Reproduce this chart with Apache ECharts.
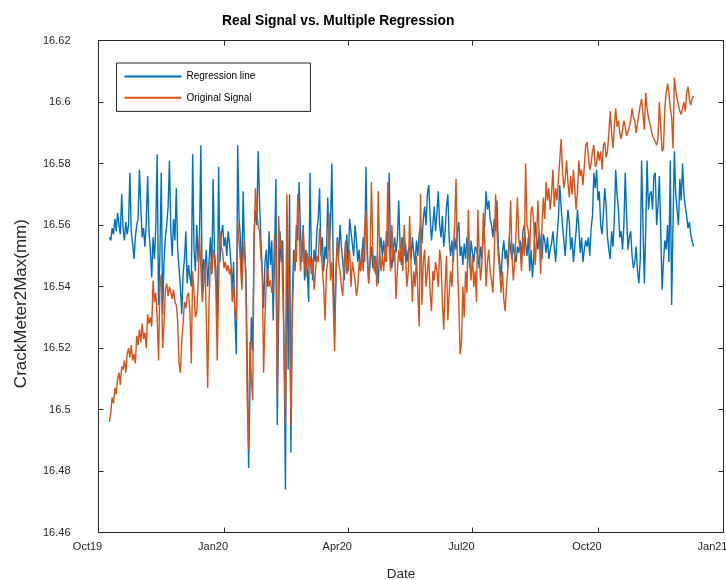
<!DOCTYPE html>
<html><head><meta charset="utf-8">
<script src="https://cdn.jsdelivr.net/npm/echarts@6/dist/echarts.min.js"></script>
<style>html,body{margin:0;padding:0;background:#fff}#c{width:726px;height:580px}</style>
</head><body><div id="c"></div>
<script>
// first sample date (one sample per day)
const firstSample = '2019-10-09';
const xTickDates = ['2019-10-01','2020-01-01','2020-04-01','2020-07-01','2020-10-01','2021-01-01'];
const xTickLabels = ['Oct19','Jan20','Apr20','Jul20','Oct20','Jan21'];
const yMin = 16.46, yMax = 16.62, yStep = 0.02;
const seriesNames = ['Regression line','Original Signal'];

const regressionLine = [
16.556,16.555,16.559,16.557,16.562,16.558,16.564,16.560,16.557,16.570,
16.559,16.555,16.561,16.557,16.560,16.577,16.558,16.554,16.549,16.556,
16.560,16.562,16.578,16.566,16.556,16.559,16.553,16.561,16.576,16.558,
16.552,16.543,16.556,16.549,16.560,16.583,16.534,16.551,16.577,16.531,
16.548,16.556,16.560,16.566,16.581,16.558,16.550,16.562,16.555,16.572,
16.552,16.546,16.540,16.531,16.544,16.549,16.558,16.541,16.547,16.543,
16.540,16.583,16.552,16.545,16.560,16.548,16.556,16.586,16.538,16.549,
16.545,16.552,16.540,16.548,16.556,16.544,16.575,16.551,16.546,16.525,
16.579,16.548,16.557,16.560,16.553,16.556,16.550,16.558,16.554,16.548,
16.539,16.548,16.530,16.518,16.586,16.562,16.556,16.540,16.571,16.552,
16.545,16.516,16.481,16.507,16.530,16.519,16.557,16.565,16.560,16.584,
16.568,16.555,16.545,16.533,16.548,16.552,16.540,16.558,16.547,16.555,
16.529,16.550,16.575,16.495,16.530,16.558,16.548,16.555,16.519,16.474,
16.563,16.513,16.570,16.486,16.535,16.552,16.545,16.560,16.555,16.574,
16.558,16.548,16.560,16.542,16.552,16.545,16.535,16.577,16.550,16.542,
16.552,16.548,16.558,16.562,16.572,16.550,16.556,16.545,16.553,16.549,
16.569,16.552,16.560,16.580,16.548,16.524,16.545,16.556,16.550,16.560,
16.553,16.548,16.542,16.550,16.557,16.545,16.562,16.558,16.554,16.550,
16.560,16.555,16.548,16.552,16.545,16.550,16.556,16.548,16.579,16.552,
16.541,16.548,16.553,16.546,16.550,16.544,16.548,16.541,16.552,16.556,
16.550,16.555,16.548,16.558,16.553,16.577,16.550,16.546,16.552,16.556,
16.551,16.555,16.568,16.553,16.547,16.556,16.550,16.554,16.548,16.552,
16.553,16.549,16.556,16.551,16.547,16.555,16.550,16.557,16.560,16.554,
16.562,16.566,16.560,16.570,16.573,16.563,16.555,16.560,16.566,16.558,
16.564,16.571,16.560,16.556,16.563,16.553,16.558,16.566,16.570,16.555,
16.550,16.555,16.548,16.556,16.552,16.558,16.561,16.550,16.553,16.547,
16.554,16.549,16.556,16.552,16.546,16.555,16.551,16.548,16.553,16.552,
16.550,16.546,16.553,16.549,16.557,16.560,16.571,16.565,16.568,16.562,
16.560,16.556,16.562,16.558,16.568,16.553,16.548,16.543,16.551,16.555,
16.549,16.552,16.546,16.556,16.552,16.549,16.554,16.550,16.548,16.553,
16.551,16.555,16.549,16.558,16.560,16.554,16.550,16.556,16.545,16.552,
16.543,16.550,16.561,16.556,16.552,16.558,16.554,16.549,16.557,16.555,
16.551,16.556,16.549,16.552,16.554,16.558,16.553,16.548,16.556,16.562,
16.573,16.566,16.560,16.555,16.550,16.558,16.565,16.561,16.552,16.556,
16.548,16.553,16.558,16.565,16.559,16.551,16.556,16.548,16.552,16.555,
16.553,16.556,16.550,16.559,16.563,16.577,16.572,16.578,16.568,16.571,
16.560,16.557,16.564,16.572,16.566,16.556,16.552,16.549,16.558,16.553,
16.562,16.578,16.570,16.565,16.556,16.558,16.552,16.560,16.577,16.563,
16.552,16.556,16.558,16.550,16.546,16.548,16.553,16.545,16.541,16.549,
16.581,16.560,16.541,16.558,16.581,16.565,16.570,16.571,16.565,16.576,
16.577,16.560,16.566,16.576,16.558,16.539,16.548,16.555,16.552,16.560,
16.548,16.581,16.534,16.560,16.584,16.570,16.565,16.560,16.575,16.568,
16.580,16.570,16.566,16.563,16.559,16.561,16.557,16.555,16.553
];

const originalSignal = [
16.496,16.499,16.504,16.502,16.507,16.505,16.510,16.512,16.508,16.514,
16.513,16.516,16.512,16.518,16.520,16.517,16.521,16.516,16.518,16.515,
16.524,16.521,16.526,16.522,16.528,16.523,16.525,16.520,16.531,16.528,
16.530,16.527,16.542,16.535,16.538,16.530,16.516,16.540,16.544,16.520,
16.528,16.539,16.541,16.537,16.540,16.538,16.536,16.539,16.535,16.534,
16.529,16.515,16.512,16.522,16.528,16.535,16.533,16.537,16.538,16.532,
16.515,16.545,16.538,16.530,16.532,16.541,16.557,16.546,16.535,16.540,
16.548,16.530,16.507,16.535,16.548,16.545,16.552,16.549,16.540,16.516,
16.540,16.558,16.553,16.551,16.546,16.548,16.545,16.547,16.544,16.546,
16.535,16.540,16.532,16.529,16.561,16.555,16.548,16.539,16.550,16.555,
16.540,16.503,16.487,16.522,16.510,16.503,16.555,16.572,16.564,16.560,
16.558,16.550,16.545,16.512,16.530,16.542,16.546,16.540,16.542,16.538,
16.539,16.557,16.550,16.504,16.563,16.552,16.555,16.540,16.519,16.495,
16.570,16.547,16.530,16.495,16.530,16.545,16.552,16.548,16.570,16.558,
16.545,16.552,16.559,16.548,16.543,16.551,16.547,16.550,16.544,16.549,
16.539,16.545,16.550,16.548,16.559,16.552,16.546,16.540,16.529,16.545,
16.548,16.564,16.542,16.548,16.535,16.519,16.543,16.555,16.548,16.545,
16.540,16.537,16.548,16.555,16.544,16.547,16.552,16.540,16.548,16.545,
16.542,16.537,16.540,16.548,16.545,16.552,16.545,16.558,16.565,16.548,
16.541,16.548,16.574,16.552,16.545,16.550,16.540,16.571,16.552,16.545,
16.550,16.545,16.553,16.548,16.574,16.553,16.545,16.560,16.548,16.552,
16.536,16.545,16.552,16.548,16.556,16.545,16.560,16.550,16.540,16.545,
16.563,16.548,16.535,16.545,16.540,16.550,16.538,16.527,16.570,16.534,
16.548,16.552,16.540,16.545,16.550,16.538,16.532,16.545,16.542,16.548,
16.545,16.540,16.552,16.548,16.535,16.526,16.540,16.550,16.529,16.538,
16.545,16.540,16.552,16.560,16.575,16.548,16.535,16.518,16.522,16.540,
16.530,16.545,16.538,16.565,16.548,16.542,16.550,16.540,16.545,16.535,
16.565,16.550,16.542,16.548,16.564,16.555,16.540,16.548,16.552,16.545,
16.542,16.538,16.550,16.570,16.558,16.550,16.545,16.538,16.545,16.536,
16.532,16.540,16.546,16.555,16.568,16.550,16.542,16.548,16.558,16.569,
16.555,16.552,16.545,16.556,16.550,16.580,16.560,16.558,16.552,16.565,
16.566,16.560,16.547,16.555,16.568,16.556,16.544,16.560,16.569,16.562,
16.574,16.568,16.572,16.565,16.570,16.578,16.566,16.572,16.568,16.575,
16.581,16.588,16.578,16.572,16.575,16.581,16.574,16.569,16.576,16.570,
16.578,16.572,16.565,16.571,16.581,16.576,16.578,16.573,16.579,16.586,
16.587,16.582,16.578,16.580,16.584,16.586,16.579,16.580,16.584,16.581,
16.584,16.578,16.586,16.587,16.582,16.584,16.590,16.597,16.590,16.585,
16.592,16.598,16.592,16.594,16.590,16.588,16.591,16.594,16.592,16.589,
16.589,16.592,16.594,16.598,16.595,16.594,16.590,16.593,16.596,16.599,
16.601,16.596,16.591,16.603,16.598,16.595,16.593,16.591,16.589,16.588,
16.587,16.586,16.588,16.600,16.592,16.584,16.585,16.598,16.603,16.606,
16.603,16.598,16.595,16.585,16.608,16.604,16.601,16.599,16.597,16.596,
16.598,16.600,16.597,16.603,16.605,16.601,16.599,16.601,16.602
];

function toTs(s, addDays) {
  const p = s.split('-').map(Number);
  return new Date(p[0], p[1] - 1, p[2] + (addDays || 0)).getTime();
}
const tickTs = xTickDates.map(s => toTs(s));
const blueData = regressionLine.map((v, i) => [toTs(firstSample, i), v]);
const orangeData = originalSignal.map((v, i) => [toTs(firstSample, i), v]);

function xLabel(val) {
  for (let k = 0; k < tickTs.length; k++) {
    if (Math.abs(tickTs[k] - val) < 3600e3 * 3) return xTickLabels[k];
  }
  return '';
}
function yLabel(v) { return String(parseFloat(Number(v).toFixed(2))); }

const axisColor = '#262626';
const FONT = "'Liberation Sans', Arial, Helvetica, sans-serif";

const chart = echarts.init(document.getElementById('c'), null, {renderer: 'canvas'});
chart.setOption({
  animation: false,
  backgroundColor: '#ffffff',
  textStyle: {fontFamily: FONT},
  title: {
    text: 'Real Signal vs. Multiple Regression',
    left: 217, top: 9,
    textStyle: {fontSize: 13.8, fontWeight: 'bold', color: '#000', fontFamily: FONT}
  },
  legend: {
    data: seriesNames,
    orient: 'vertical',
    left: 116.5, top: 63,
    itemWidth: 57, itemHeight: 14, itemGap: 10,
    padding: [8, 55, 8, 7],
    borderColor: axisColor, borderWidth: 1,
    backgroundColor: '#fff',
    itemStyle: {opacity: 0},
    textStyle: {fontSize: 10, color: '#000', fontFamily: FONT}
  },
  grid: {left: 98.5, right: 2.5, top: 40.6, bottom: 47.4, containLabel: false, outerBoundsMode: 'none'},
  xAxis: [{
    type: 'value', position: 'bottom', scale: true,
    min: tickTs[0], max: tickTs[tickTs.length - 1],
    name: 'Date', nameLocation: 'middle', nameGap: 35,
    nameTextStyle: {fontSize: 13.5, color: axisColor, fontFamily: FONT, padding: [0, 20, 0, 0]},
    axisLine: {show: true, onZero: false, lineStyle: {color: axisColor, width: 1}},
    axisTick: {show: true, inside: true, length: 5, customValues: tickTs, lineStyle: {color: axisColor}},
    axisLabel: {show: true, customValues: tickTs, formatter: xLabel, margin: 9, fontSize: 11, color: axisColor,
      fontFamily: FONT, padding: [0, 22, 0, 0], hideOverlap: false, showMinLabel: true, showMaxLabel: true},
    splitLine: {show: false}
  }, {
    type: 'value', position: 'top', scale: true,
    min: tickTs[0], max: tickTs[tickTs.length - 1],
    axisLine: {show: true, onZero: false, lineStyle: {color: axisColor, width: 1}},
    axisTick: {show: true, inside: true, length: 5, customValues: tickTs, lineStyle: {color: axisColor}},
    axisLabel: {show: false},
    splitLine: {show: false}
  }],
  yAxis: [{
    type: 'value', position: 'left',
    min: yMin, max: yMax, interval: yStep,
    name: 'CrackMeter2Max(mm)', nameLocation: 'middle', nameGap: 69,
    nameTextStyle: {fontSize: 17, color: axisColor, fontFamily: FONT, padding: [0, 34, 0, 0]},
    axisLine: {show: true, onZero: false, lineStyle: {color: axisColor, width: 1}},
    axisTick: {show: true, inside: true, length: 5, lineStyle: {color: axisColor}},
    axisLabel: {formatter: yLabel, margin: 28, fontSize: 11, color: axisColor, fontFamily: FONT},
    splitLine: {show: false}
  }, {
    type: 'value', position: 'right',
    min: yMin, max: yMax, interval: yStep,
    axisLine: {show: true, onZero: false, lineStyle: {color: axisColor, width: 1}},
    axisTick: {show: true, inside: true, length: 5, lineStyle: {color: axisColor}},
    axisLabel: {show: false},
    splitLine: {show: false}
  }],
  series: [{
    name: seriesNames[0], type: 'line', data: blueData,
    xAxisIndex: 0, yAxisIndex: 0,
    showSymbol: false, symbol: 'none',
    color: '#0072BD', lineStyle: {width: 1.4, color: '#0072BD'},
    emphasis: {disabled: true}
  }, {
    name: seriesNames[1], type: 'line', data: orangeData,
    xAxisIndex: 0, yAxisIndex: 0,
    showSymbol: false, symbol: 'none',
    color: '#D95319', lineStyle: {width: 1.4, color: '#D95319'},
    emphasis: {disabled: true}
  }]
});
</script>
</body></html>
